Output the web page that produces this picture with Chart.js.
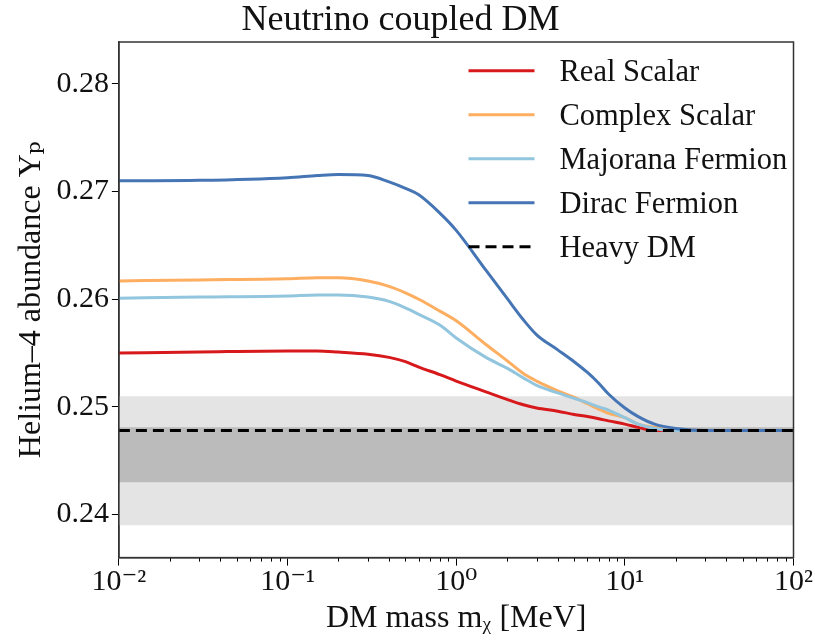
<!DOCTYPE html>
<html>
<head>
<meta charset="utf-8">
<script src="https://cdn.jsdelivr.net/npm/chart.js@4.4.1/dist/chart.umd.min.js"></script>
<style>
  html, body { margin: 0; padding: 0; background: #fff; }
  #wrap { width: 815px; height: 641px; }
</style>
</head>
<body>
<div id="wrap"><canvas id="chart" width="815" height="641"></canvas></div>
<script>
// DM mass grid (MeV)
const massMeV = [0.01, 0.03, 0.1, 0.15, 0.2, 0.3, 0.4, 0.5, 0.6, 0.8, 1, 1.5, 2, 2.5, 3, 4, 5, 6, 7, 8, 10, 12, 15, 20, 30, 100];

// Helium-4 abundance Yp per DM type
const realScalar     = [0.2550, 0.2551, 0.2552, 0.2552, 0.2551, 0.2549, 0.2546, 0.2542, 0.2537, 0.2530, 0.2524, 0.2514, 0.2507, 0.2502, 0.2499, 0.2496, 0.2493, 0.2491, 0.2489, 0.2487, 0.2484, 0.2481, 0.2478, 0.2478, 0.2478, 0.2478];
const complexScalar  = [0.2617, 0.2618, 0.2619, 0.2620, 0.2620, 0.2617, 0.2612, 0.2606, 0.2600, 0.2589, 0.2580, 0.2558, 0.2543, 0.2531, 0.2524, 0.2515, 0.2509, 0.2503, 0.2498, 0.2494, 0.2490, 0.2484, 0.2481, 0.2479, 0.2478, 0.2478];
const majoranaFermion = [0.2601, 0.2602, 0.2603, 0.2604, 0.2604, 0.2602, 0.2598, 0.2592, 0.2586, 0.2576, 0.2564, 0.2546, 0.2536, 0.2527, 0.2520, 0.2513, 0.2508, 0.2504, 0.2500, 0.2497, 0.2490, 0.2484, 0.2480, 0.2478, 0.2478, 0.2478];
const diracFermion   = [0.2710, 0.27105, 0.2713, 0.2715, 0.2716, 0.2715, 0.2709, 0.2703, 0.2697, 0.2680, 0.2664, 0.2627, 0.2601, 0.2581, 0.2567, 0.2553, 0.2542, 0.2532, 0.2522, 0.2512, 0.2499, 0.2491, 0.2484, 0.2480, 0.2478, 0.2478];

const heavyDM = 0.2478;
const bandOuter = [0.2390, 0.2510];   // light grey band
const bandInner = [0.2430, 0.2481];   // dark grey band
const xRange = [0.01, 100];

// axes
const xMajorTicks = [0.01, 0.1, 1, 10, 100];
const xTickLabels = ['10⁻²', '10⁻¹', '10⁰', '10¹', '10²'];
const yTicks = [0.24, 0.25, 0.26, 0.27, 0.28];
const yRange = [0.2360, 0.2839];

const seriesNames = ['Real Scalar', 'Complex Scalar', 'Majorana Fermion', 'Dirac Fermion', 'Heavy DM'];
const seriesColors = ['#d7191c', '#fdae61', '#92c5de', '#4575b4', '#000000'];

const serifFont = "'Liberation Serif', 'DejaVu Serif', serif";

const isMajor = v => xMajorTicks.some(m => Math.abs(m - v) / m < 1e-6);

// minor tick positions 2..9 inside each decade
const xAllTicks = [];
xMajorTicks.forEach((m, i) => {
  xAllTicks.push(m);
  if (i < xMajorTicks.length - 1) {
    for (let k = 2; k <= 9; k++) xAllTicks.push(k * m);
  }
});

const toPoints = arr => massMeV.map((m, i) => ({ x: m, y: arr[i] }));

const curve = (idx, values, order) => ({
  label: seriesNames[idx],
  data: toPoints(values),
  borderColor: seriesColors[idx],
  borderWidth: 3,
  pointRadius: 0,
  cubicInterpolationMode: 'monotone',
  fill: false,
  order: order,
  inLegend: true
});

// cadre, petites graduations et légende dans le graphique
const framePlugin = {
  id: 'frameAndLegend',
  afterDraw(chart) {
    const { ctx, chartArea: a, scales } = chart;
    ctx.save();

    // minor ticks on the log axis
    ctx.strokeStyle = '#000';
    ctx.lineWidth = 1;
    xAllTicks.filter(v => !isMajor(v)).forEach(v => {
      const px = Math.round(scales.x.getPixelForValue(v)) + 0.5;
      ctx.beginPath();
      ctx.moveTo(px, a.bottom);
      ctx.lineTo(px, a.bottom + 4);
      ctx.stroke();
    });

    // frame
    ctx.strokeStyle = '#333';
    ctx.lineWidth = 1.5;
    ctx.strokeRect(a.left, a.top, a.right - a.left, a.bottom - a.top);

    // legend
    const items = chart.data.datasets.filter(d => d.inLegend);
    const x0 = a.right - 325;
    ctx.font = '30.5px ' + serifFont;
    ctx.textBaseline = 'alphabetic';
    ctx.fillStyle = '#111';
    items.forEach((d, i) => {
      const y = a.top + 28.7 + i * 44;
      ctx.beginPath();
      ctx.strokeStyle = d.borderColor;
      ctx.lineWidth = 3;
      ctx.setLineDash(d.borderDash || []);
      ctx.moveTo(x0, y);
      ctx.lineTo(x0 + 66, y);
      ctx.stroke();
      ctx.setLineDash([]);
      ctx.fillText(d.label, x0 + 91, y + 10.5);
    });
    ctx.restore();
  }
};

new Chart(document.getElementById('chart'), {
  type: 'line',
  data: {
    datasets: [
      curve(0, realScalar, 5),
      curve(1, complexScalar, 4),
      curve(2, majoranaFermion, 3),
      curve(3, diracFermion, 2),
      {
        label: seriesNames[4],
        data: xRange.map(x => ({ x: x, y: heavyDM })),
        borderColor: seriesColors[4],
        borderWidth: 3,
        borderDash: [11, 6],
        pointRadius: 0,
        fill: false,
        order: 1,
        inLegend: true
      },
      {
        label: 'outer band',
        data: xRange.map(x => ({ x: x, y: bandOuter[1] })),
        borderWidth: 0,
        pointRadius: 0,
        fill: { value: bandOuter[0] },
        backgroundColor: '#e4e4e4',
        order: 20
      },
      {
        label: 'inner band',
        data: xRange.map(x => ({ x: x, y: bandInner[1] })),
        borderWidth: 0,
        pointRadius: 0,
        fill: { value: bandInner[0] },
        backgroundColor: '#bbbbbb',
        order: 19
      }
    ]
  },
  options: {
    responsive: false,
    animation: false,
    layout: { padding: { left: 6, right: 20, top: 0, bottom: 3 } },
    plugins: {
      legend: { display: false },
      tooltip: { enabled: false },
      title: {
        display: true,
        text: 'Neutrino coupled DM',
        color: '#111',
        font: { family: serifFont, size: 36, weight: 'normal', lineHeight: 1.0 },
        padding: { top: 3, bottom: 3 }
      }
    },
    scales: {
      x: {
        type: 'logarithmic',
        min: xRange[0],
        max: xRange[1],
        afterBuildTicks: axis => {
          axis.ticks = xAllTicks.map(v => ({ value: v, major: isMajor(v) }));
        },
        ticks: {
          autoSkip: false,
          maxRotation: 0,
          color: '#111',
          padding: 2,
          font: { family: serifFont, size: 30, lineHeight: 1.0 },
          callback: v => {
            const i = xMajorTicks.findIndex(m => Math.abs(m - v) / m < 1e-6);
            return i >= 0 ? xTickLabels[i] : '';
          }
        },
        grid: {
          drawOnChartArea: false,
          drawTicks: true,
          tickLength: 8,
          tickWidth: 1,
          tickColor: c => (c.tick && isMajor(c.tick.value)) ? '#000' : 'rgba(0,0,0,0)'
        },
        border: { display: true, color: '#333', width: 1.5 },
        title: {
          display: true,
          text: 'DM mass mᵪ [MeV]',
          color: '#111',
          font: { family: serifFont, size: 32, lineHeight: 1.2 },
          padding: { top: 0, bottom: 0 }
        }
      },
      y: {
        type: 'linear',
        min: yRange[0],
        max: yRange[1],
        afterBuildTicks: axis => {
          axis.ticks = yTicks.map(v => ({ value: v }));
        },
        ticks: {
          color: '#111',
          padding: 3,
          font: { family: serifFont, size: 30 },
          callback: v => v.toFixed(2)
        },
        grid: {
          drawOnChartArea: false,
          drawTicks: true,
          tickLength: 7,
          tickWidth: 1,
          tickColor: '#000'
        },
        border: { display: true, color: '#333', width: 1.5 },
        title: {
          display: true,
          text: 'Helium–4 abundance Yₚ',
          color: '#111',
          font: { family: serifFont, size: 32, lineHeight: 1.2 },
          padding: { top: 6, bottom: 3 }
        }
      }
    }
  },
  plugins: [framePlugin]
});
</script>
</body>
</html>
